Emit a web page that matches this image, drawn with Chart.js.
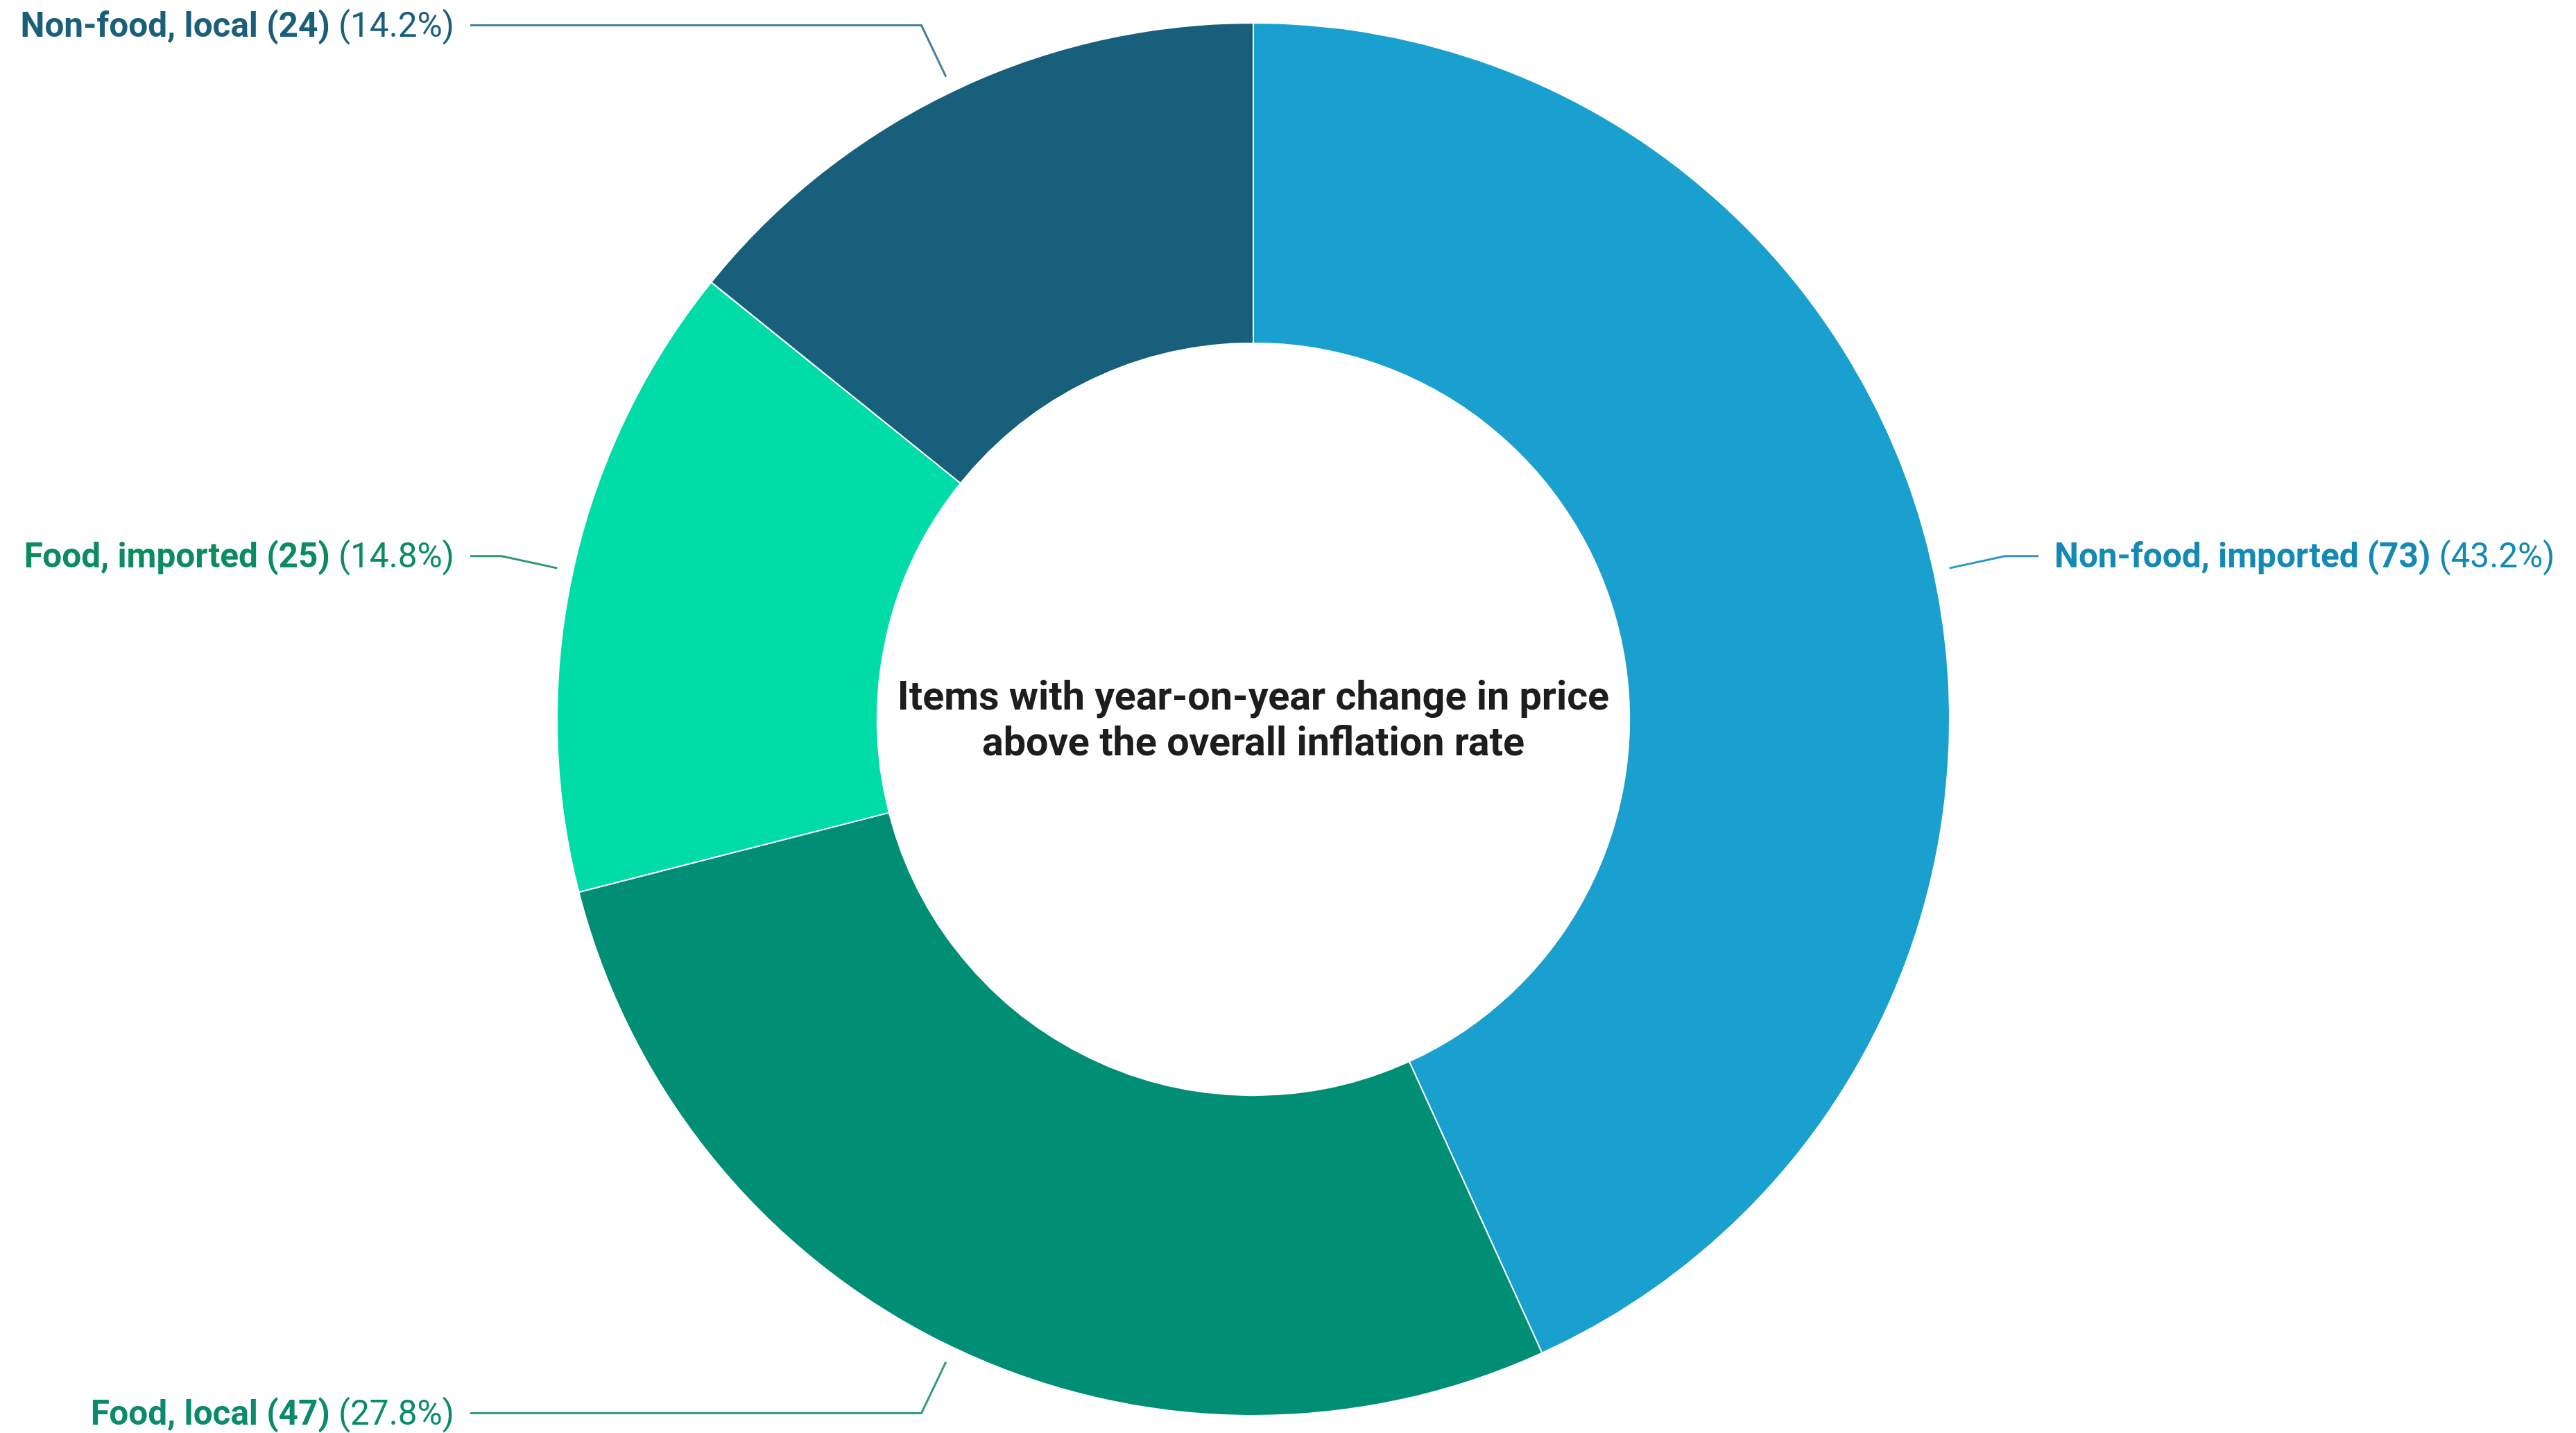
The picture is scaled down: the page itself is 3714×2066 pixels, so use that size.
<!DOCTYPE html>
<html>
<head>
<meta charset="utf-8">
<script src="https://cdn.jsdelivr.net/npm/chart.js@4.4.1/dist/chart.umd.min.js"></script>
<style>
    html, body { margin: 0; padding: 0; background: #fff; }
    #wrap { width: 3714px; height: 2066px; position: relative; }
</style>
</head>
<body>
<div id="wrap"><canvas id="chart"></canvas></div>
<script>
// Data
const categories = ["Non-food, imported", "Food, local", "Food, imported", "Non-food, local"];
const counts = [73, 47, 25, 24];
const percentLabels = ["43.2%", "27.8%", "14.8%", "14.2%"];
const centerLines = ["Items with year-on-year change in price", "above the overall inflation rate"];

const sliceColors = ["#1aa0ce", "#008f74", "#00dca8", "#175f7a"];
const labelColors = ["#1489b3", "#0b8b6b", "#0b8c5f", "#1a5f7a"];
const lineColors = ["#2a97c2", "#2f9c80", "#2c9672", "#41819a"];

const FONT = "Roboto, 'Noto Sans', sans-serif";
const LABEL_SIZE = 49.5;
const LEFT_TEXT_RIGHT = 655;
const RIGHT_TEXT_LEFT = 2962;
const TEXT_GAP = 23;

// Leader lines + labels around the ring
const outerLabels = {
    id: "outerLabels",
    afterDraw(chart) {
        const ctx = chart.ctx;
        const arcs = chart.getDatasetMeta(0).data;
        ctx.save();
        arcs.forEach((arc, i) => {
            const mid = (arc.startAngle + arc.endAngle) / 2;
            const dx = Math.cos(mid), dy = Math.sin(mid);
            const r0 = arc.outerRadius + 23;
            const px = arc.x + dx * r0, py = arc.y + dy * r0;
            const ex = px + dx * 82, ey = py + dy * 82;
            const right = dx > 0;
            const hx = right ? RIGHT_TEXT_LEFT - TEXT_GAP : LEFT_TEXT_RIGHT + TEXT_GAP;

            ctx.strokeStyle = lineColors[i];
            ctx.lineWidth = 3;
            ctx.lineJoin = "miter";
            ctx.beginPath();
            ctx.moveTo(px, py);
            ctx.lineTo(ex, ey);
            ctx.lineTo(hx, ey);
            ctx.stroke();

            const boldText = categories[i] + " (" + counts[i] + ") ";
            const normText = "(" + percentLabels[i] + ")";
            ctx.textBaseline = "middle";
            ctx.textAlign = "left";
            ctx.font = "bold " + LABEL_SIZE + "px " + FONT;
            const wb = ctx.measureText(boldText).width;
            ctx.font = LABEL_SIZE + "px " + FONT;
            const wn = ctx.measureText(normText).width;
            const x0 = right ? RIGHT_TEXT_LEFT : LEFT_TEXT_RIGHT - wb - wn;
            ctx.fillStyle = labelColors[i];
            ctx.font = "bold " + LABEL_SIZE + "px " + FONT;
            ctx.fillText(boldText, x0, ey + 4);
            ctx.font = LABEL_SIZE + "px " + FONT;
            ctx.fillText(normText, x0 + wb, ey + 4);
        });

        // centre caption
        const a = arcs[0];
        ctx.fillStyle = "#1d1d1d";
        ctx.textAlign = "center";
        ctx.textBaseline = "middle";
        ctx.font = "bold 57.5px " + FONT;
        ctx.fillText(centerLines[0], a.x, a.y - 28);
        ctx.fillText(centerLines[1], a.x, a.y + 38);
        ctx.restore();
    }
};

new Chart(document.getElementById("chart"), {
    type: "doughnut",
    data: {
        labels: categories,
        datasets: [{
            data: counts,
            backgroundColor: sliceColors,
            borderColor: "#ffffff",
            borderWidth: 2,
            hoverOffset: 0,
        }]
    },
    options: {
        responsive: true,
        maintainAspectRatio: false,
        animation: false,
        cutout: "54%",
        layout: { padding: { top: 32, bottom: 24, left: 0, right: 100 } },
        plugins: {
            legend: { display: false },
            tooltip: { enabled: false },
        },
    },
    plugins: [outerLabels],
});
</script>
</body>
</html>
